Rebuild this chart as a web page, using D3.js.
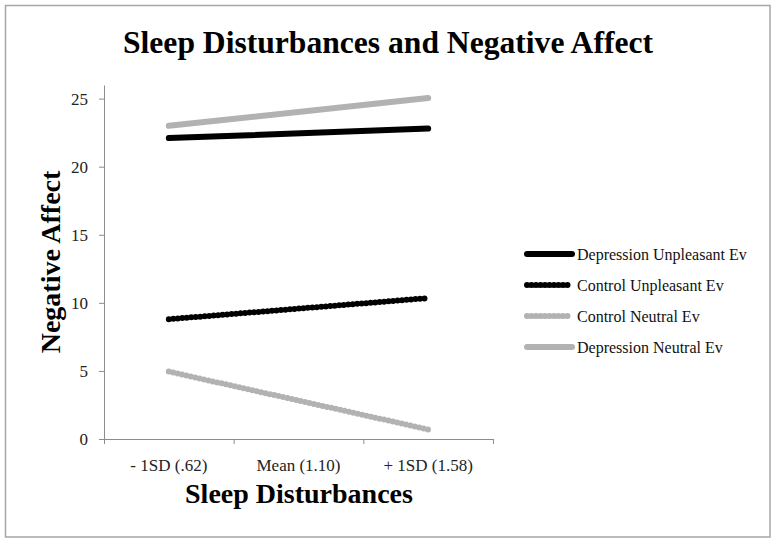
<!DOCTYPE html>
<html>
  <head>
    <meta charset="utf-8">
    <title>Sleep Disturbances and Negative Affect</title>
    <script src="https://cdn.jsdelivr.net/npm/d3@7"></script>
    <style>
      body { margin: 0; background: #fff; }
      text { font-family: "Liberation Serif", "Times New Roman", serif; }
    </style>
  </head>
  <body>
    <svg id="chart" width="776" height="543"></svg>
    <script>
      // data
      var categories = ["- 1SD (.62)", "Mean (1.10)", "+ 1SD (1.58)"];
      var seriesNames = ["Depression Unpleasant Ev", "Control Unpleasant Ev", "Control Neutral Ev", "Depression Neutral Ev"];
      var depUnpleasant = [22.1, 22.8];
      var ctlUnpleasant = [8.8, 10.35];
      var ctlNeutral = [4.95, 0.7];
      var depNeutral = [23.0, 25.05];
      var yTicks = [0, 5, 10, 15, 20, 25];
      // the lines only run from the low to the high point
      var pointCats = [categories[0], categories[2]];

      var series = [
        {name: seriesNames[0], values: depUnpleasant, color: "#000", dash: null, width: 6},
        {name: seriesNames[1], values: ctlUnpleasant, color: "#000", dash: "0,4.5", width: 6},
        {name: seriesNames[2], values: ctlNeutral, color: "#b2b2b2", dash: "0,4.5", width: 6},
        {name: seriesNames[3], values: depNeutral, color: "#b2b2b2", dash: null, width: 6}
      ];

      var svg = d3.select("#chart");

      // outer frame
      svg.append("rect")
        .attr("x", 5.5).attr("y", 5.5)
        .attr("width", 764.5).attr("height", 531.5)
        .style("fill", "none").style("stroke", "#a6a6a6").style("stroke-width", 1.5);

      // plot area (window.top is taken, so prefixed names)
      var plotLeft = 104, plotRight = 493, plotTop = 85, plotBottom = 439;

      var x = d3.scaleBand().domain(categories).range([plotLeft, plotRight]);
      var y = d3.scaleLinear().domain([0, 26]).range([plotBottom, plotTop]);

      // x axis
      var xAxis = svg.append("g").attr("transform", "translate(0," + plotBottom + ")")
        .call(d3.axisBottom(x).tickSize(0).tickPadding(20));
      xAxis.select(".domain").style("stroke", "#8c8c8c");
      xAxis.selectAll("text").style("font-size", "17px").style("fill", "#222").style("font-family", "Liberation Serif");
      // Excel style ticks at band boundaries
      var edges = categories.map(function(c) { return x(c); }).concat([plotRight]);
      xAxis.selectAll("line.edge").data(edges).join("line")
        .attr("class", "edge")
        .attr("x1", function(d) { return d + 0.5; }).attr("x2", function(d) { return d + 0.5; })
        .attr("y1", 0).attr("y2", 5)
        .style("stroke", "#8c8c8c");

      // y axis
      var yAxis = svg.append("g").attr("transform", "translate(" + plotLeft + ",0)")
        .call(d3.axisLeft(y).tickValues(yTicks).tickSize(5).tickSizeOuter(0).tickPadding(11));
      yAxis.select(".domain").style("stroke", "#8c8c8c");
      yAxis.selectAll(".tick line").style("stroke", "#8c8c8c");
      yAxis.selectAll("text").style("font-size", "17px").style("fill", "#222").style("font-family", "Liberation Serif");

      // lines
      var line = d3.line()
        .x(function(d, i) { return x(pointCats[i]) + x.bandwidth() / 2; })
        .y(function(d) { return y(d); });

      svg.selectAll("path.series").data(series).join("path")
        .attr("class", "series")
        .attr("d", function(s) { return line(s.values); })
        .style("fill", "none")
        .style("stroke", function(s) { return s.color; })
        .style("stroke-width", function(s) { return s.width; })
        .style("stroke-linecap", "round")
        .style("stroke-dasharray", function(s) { return s.dash; });

      // legend
      var legend = svg.append("g").attr("transform", "translate(525,254)");
      var rows = legend.selectAll("g").data(series).join("g")
        .attr("transform", function(s, i) { return "translate(0," + (i * 31) + ")"; });
      rows.append("line")
        .attr("x1", 2).attr("x2", 47).attr("y1", 0).attr("y2", 0)
        .style("stroke", function(s) { return s.color; })
        .style("stroke-width", function(s) { return s.width; })
        .style("stroke-linecap", "round")
        .style("stroke-dasharray", function(s) { return s.dash; });
      rows.append("text")
        .attr("x", 52).attr("y", 0).attr("dy", "0.35em")
        .style("font-size", "16px").style("fill", "#111")
        .text(function(s) { return s.name; });

      // titles
      svg.append("text")
        .attr("x", 388).attr("y", 53)
        .attr("text-anchor", "middle")
        .attr("textLength", 530).attr("lengthAdjust", "spacingAndGlyphs")
        .style("font-size", "31px").style("font-weight", "bold")
        .text("Sleep Disturbances and Negative Affect");

      svg.append("text")
        .attr("x", 299).attr("y", 503)
        .attr("text-anchor", "middle")
        .style("font-size", "28px").style("font-weight", "bold")
        .text("Sleep Disturbances");

      svg.append("text")
        .attr("transform", "translate(60,262) rotate(-90)")
        .attr("text-anchor", "middle")
        .style("font-size", "28px").style("font-weight", "bold")
        .text("Negative Affect");
    </script>
  </body>
</html>
